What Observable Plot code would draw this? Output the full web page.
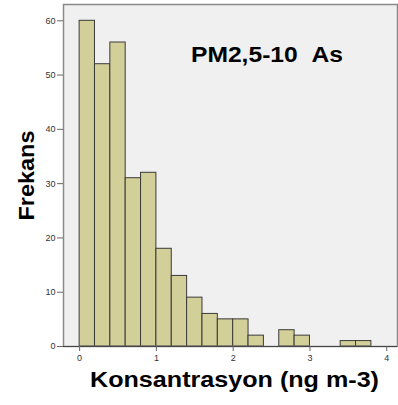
<!DOCTYPE html>
<html>
<head>
<meta charset="utf-8">
<script src="https://cdn.jsdelivr.net/npm/d3@7"></script>
<script src="https://cdn.jsdelivr.net/npm/@observablehq/plot@0.6"></script>
<style>
  html, body { margin: 0; padding: 0; background: #fff; }
  #chart svg { display: block; }
</style>
</head>
<body>
<div id="chart"></div>
<script>
// Histogram bins (ng m-3), width 0.2
const binStarts = [0.0, 0.2, 0.4, 0.6, 0.8, 1.0, 1.2, 1.4, 1.6, 1.8, 2.0, 2.2, 2.4, 2.6, 2.8, 3.0, 3.2, 3.4, 3.6];
const binWidth = 0.2;
const counts = [60, 52, 56, 31, 32, 18, 13, 9, 6, 5, 5, 2, 0, 3, 2, 0, 0, 1, 1];
const xTicks = [0, 1, 2, 3, 4];
const yTicks = [0, 10, 20, 30, 40, 50, 60];
const xTitle = "Konsantrasyon (ng m-3)";
const yTitle = "Frekans";
const annotation = "PM2,5-10\u00a0\u00a0As";
const annotationPos = { x: 1.45, y: 53.7 };

const bins = binStarts.map((s, i) => ({ x1: s, x2: s + binWidth, y: counts[i] }))
  .filter(d => d.y > 0);

const chart = Plot.plot({
  width: 398,
  height: 405,
  marginLeft: 63,
  marginRight: 1,
  marginTop: 4,
  marginBottom: 59,
  style: { fontFamily: "'Liberation Sans', Arial, sans-serif", background: "#fff" },
  x: { domain: [-0.21, 4.14], label: null },
  y: { domain: [0, 63], label: null },
  marks: [
    Plot.frame({ fill: "#f0f0f0", stroke: "none" }),
    Plot.rect(bins, { x1: "x1", x2: "x2", y1: 0, y2: "y", fill: "#d3cf98", stroke: "#3a3a3a", strokeWidth: 1, inset: 0 }),
    Plot.frame({ stroke: "#8a8a8a", strokeWidth: 1.5 }),
    Plot.ruleY([0], { stroke: "#444", strokeWidth: 1.2 }),
    Plot.axisY({ ticks: yTicks, tickSize: 6, tickPadding: 2, fontSize: 9, stroke: "#666", color: "#333", label: null }),
    Plot.axisX({ ticks: xTicks, tickFormat: d => String(d), tickSize: 5, tickPadding: 3, fontSize: 9, stroke: "#666", color: "#333", label: null }),
    Plot.text([xTitle], { frameAnchor: "bottom", textAnchor: "middle", dx: 4, dy: 40, fontSize: 22, fontWeight: "bold", fill: "#000", className: "xtitle" }),
    Plot.text([yTitle], { frameAnchor: "left", textAnchor: "middle", dx: -36.7, rotate: -90, fontSize: 22.5, fontWeight: "bold", fill: "#000", className: "ytitle" }),
    Plot.text([annotation], { x: () => annotationPos.x, y: () => annotationPos.y, textAnchor: "start", fontSize: 22, fontWeight: "bold", fill: "#000", className: "annot" })
  ]
});
const sel = d3.select(chart);
sel.selectAll("g.xtitle text").attr("textLength", 289).attr("lengthAdjust", "spacingAndGlyphs");
sel.selectAll("g.ytitle text").attr("textLength", 90).attr("lengthAdjust", "spacingAndGlyphs");
sel.selectAll("g.annot text").attr("textLength", 152).attr("lengthAdjust", "spacingAndGlyphs");
document.getElementById("chart").appendChild(chart);
</script>
</body>
</html>
